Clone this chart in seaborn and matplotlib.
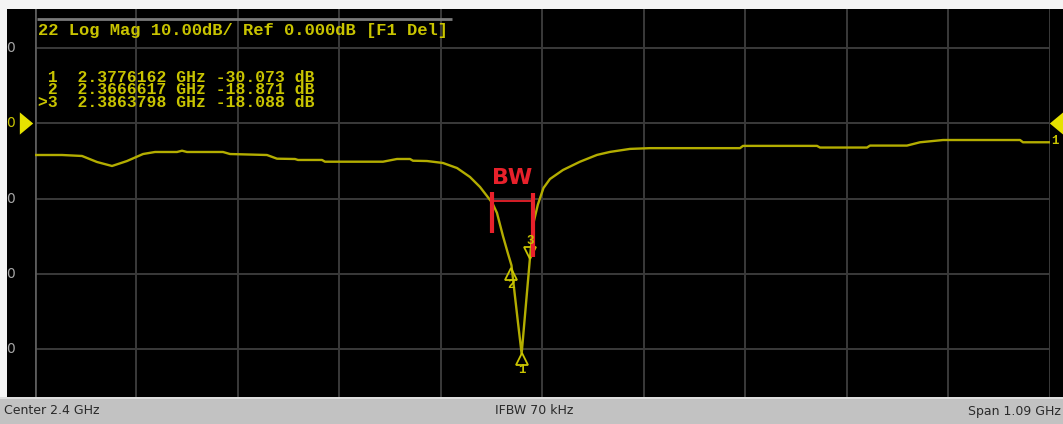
import numpy as np
import matplotlib
matplotlib.use("Agg")
import matplotlib.pyplot as plt
import matplotlib.transforms as mtransforms
from matplotlib.patches import Rectangle
import seaborn as sns

# ---------- DATA ----------
freq_ghz = [1.855, 1.884, 1.9055, 1.9216, 1.9377, 1.9538, 1.971, 1.9839, 2.0075, 2.0129,
            2.0182, 2.0569, 2.0644, 2.1041, 2.1149, 2.1342, 2.1374, 2.1632, 2.1664, 2.2287,
            2.2437, 2.2577, 2.2609, 2.2760, 2.2931, 2.3082, 2.3221, 2.3329, 2.3404, 2.3462,
            2.3511, 2.3576, 2.3629, 2.3667, 2.3700, 2.3737, 2.3776, 2.3864, 2.3898, 2.3950,
            2.4010, 2.4080, 2.4220, 2.4403, 2.4585, 2.4725, 2.4940, 2.5154, 2.6121, 2.6153,
            2.6948, 2.6980, 2.7485, 2.7517, 2.7914, 2.8054, 2.8301, 2.9128, 2.9160, 2.945]
mag_db = [-4.21, -4.21, -4.34, -5.14, -5.67, -5.01, -4.08, -3.81, -3.81, -3.64,
          -3.81, -3.81, -4.08, -4.21, -4.70, -4.74, -4.87, -4.87, -5.10, -5.10,
          -4.74, -4.74, -4.97, -5.01, -5.27, -5.94, -7.13, -8.46, -9.66, -10.6,
          -11.9, -15.0, -17.3, -18.87, -22.5, -26.5, -30.6, -18.09, -13.5, -10.8,
          -8.6, -7.4, -6.2, -5.1, -4.2, -3.8, -3.4, -3.3, -3.3, -3.0,
          -3.0, -3.22, -3.22, -2.96, -2.96, -2.52, -2.22, -2.22, -2.52, -2.52]

marker_ids = ["1", "2", "3"]
marker_freq = [2.3776162, 2.3666617, 2.3863798]
marker_db = [-30.073, -18.871, -18.088]
marker_up = [True, True, False]
active_marker = "3"

bw_db = -10.28                    # level of the BW bracket
bw_freq = [2.3458, 2.3898]        # left / right edge of the bracket

center_ghz = 2.4
span_ghz = 1.09
ref_db = 0.0
grid_db = [10, 0, -10, -20, -30]
# the screen capture is cropped: only the last digit of each scale label shows
y_labels = ["0", "0", "0", "0", "0"]

title = "22 Log Mag 10.00dB/ Ref 0.000dB [F1 Del]"
status_left = "Center 2.4 GHz"
status_mid = "IFBW 70 kHz"
status_right = "Span 1.09 GHz"
# ---------------------------

YEL = "#c9c400"
TRACE = "#b3ad00"
RED = "#e8212b"
GRID = "#3a3a3a"

sns.set_theme(style="dark", rc={"axes.facecolor": "black", "figure.facecolor": "#f4f4f4"})
plt.rcParams["font.family"] = ["DejaVu Sans"]

W, H = 1063, 424
fig = plt.figure(figsize=(W / 100, H / 100), dpi=100)

# instrument screen background and status bar
fig.add_artist(Rectangle((7 / W, 27 / H), 1 - 7 / W, 388 / H, transform=fig.transFigure,
                         facecolor="black", edgecolor="none", zorder=-5))
fig.add_artist(Rectangle((0, 0), 1, 26 / H, transform=fig.transFigure,
                         facecolor="#c2c2c2", edgecolor="none", zorder=-5))
fig.add_artist(Rectangle((0, 25 / H), 1, 2 / H, transform=fig.transFigure,
                         facecolor="#dedede", edgecolor="none", zorder=-5))

ax = fig.add_axes([35 / W, 27 / H, 1015 / W, 388 / H])
f0 = center_ghz - span_ghz / 2
f1 = center_ghz + span_ghz / 2
ax.set_xlim(f0, f1)
ax.set_ylim(-36.35, 15.18)
ax.set_xticks(np.linspace(f0, f1, 11))
ax.set_yticks(grid_db)
ax.tick_params(length=0, labelbottom=False, labelleft=False)
ax.grid(True, color=GRID, lw=1.4)
ax.axvline(f0, color="#5c5c5c", lw=2)
for s in ax.spines.values():
    s.set_visible(False)
ax.set_xlabel("")
ax.set_ylabel("")

sns.lineplot(x=freq_ghz, y=mag_db, ax=ax, color=TRACE, lw=1.7, sort=False, estimator=None)

# title box
ax.hlines(13.85, f0 + 0.002, 2.3028, color="#7a7a7a", lw=2)
ax.text(f0 + 0.003, 12.35, title, color=YEL, fontsize=12.3, family="Liberation Mono",
        weight="bold", ha="left", va="center")

# marker table (one block, tight line pitch like the instrument font)
rows = []
for mid, mf, md in zip(marker_ids, marker_freq, marker_db):
    prefix = ">" if mid == active_marker else " "
    rows.append(f"{prefix}{mid}  {mf:.7f} GHz {md:.3f} dB")
ax.text(f0 + 0.0035, 4.45, "\n".join(rows), color=YEL, fontsize=11.8, family="Liberation Mono",
        weight="bold", ha="left", va="center", linespacing=0.77)

# markers on the trace
for mid, mf, md, up in zip(marker_ids, marker_freq, marker_db, marker_up):
    dy = -9 if up else 6
    off = mtransforms.ScaledTranslation(0, dy / 100, fig.dpi_scale_trans)
    ax.plot([mf], [md], marker="^" if up else "v", ms=8, mfc="none", mec=YEL, mew=1.3,
            transform=ax.transData + off)
    loff = mtransforms.ScaledTranslation(0, (-20 if up else 18) / 100, fig.dpi_scale_trans)
    ax.text(mf, md, mid, color=YEL, fontsize=9, family="Liberation Mono", weight="bold",
            ha="center", va="center", transform=ax.transData + loff)

# BW bracket
ax.vlines(bw_freq[0], bw_db - 4.3, bw_db + 1.1, color=RED, lw=3)
ax.vlines(bw_freq[1], bw_db - 7.5, bw_db + 1.0, color=RED, lw=3)
ax.hlines(bw_db, bw_freq[0], bw_freq[1], color=RED, lw=1.3)
ax.text(sum(bw_freq) / 2, bw_db + 3.0, "BW", color=RED, fontsize=16, weight="bold",
        ha="center", va="center")

# y scale labels
lab_off = mtransforms.ScaledTranslation(-20 / 100, 0, fig.dpi_scale_trans)
for v, lab in zip(grid_db, y_labels):
    ax.text(f0, v, lab, color=YEL if v == ref_db else "#a6a6a6", fontsize=10,
            ha="right", va="center", transform=ax.transData + lab_off)

# reference level arrows
left_arrow = [(-0.6, 1), (0.6, 0), (-0.6, -1)]
right_arrow = [(0.6, 1), (-0.6, 0), (0.6, -1)]
loff = mtransforms.ScaledTranslation(-8.5 / 100, 0, fig.dpi_scale_trans)
roff = mtransforms.ScaledTranslation(6.5 / 100, 0, fig.dpi_scale_trans)
ax.plot([f0], [ref_db], marker=left_arrow, ms=16, color="#e6e200", mec="none",
        clip_on=False, transform=ax.transData + loff)
ax.plot([f1], [ref_db], marker=right_arrow, ms=16, color="#e6e200", mec="none",
        clip_on=False, transform=ax.transData + roff)
toff = mtransforms.ScaledTranslation(5 / 100, -18 / 100, fig.dpi_scale_trans)
ax.text(f1, ref_db, "1", color=YEL, fontsize=9, family="Liberation Mono", weight="bold",
        ha="center", va="center", clip_on=False, transform=ax.transData + toff)

# status bar
fig.text(4 / W, 13 / H, status_left, color="#2a2a2a", fontsize=9, ha="left", va="center")
fig.text(534 / W, 13 / H, status_mid, color="#2a2a2a", fontsize=9, ha="center", va="center")
fig.text(1061 / W, 13 / H, status_right, color="#2a2a2a", fontsize=9, ha="right", va="center")

fig.savefig("out.png", dpi=100, facecolor=fig.get_facecolor())
